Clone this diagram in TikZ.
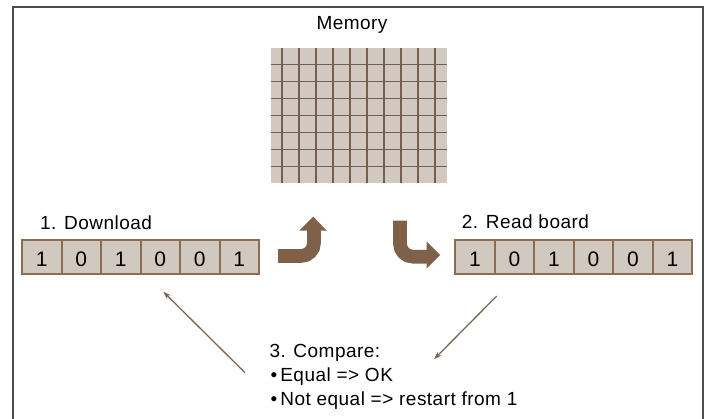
\documentclass[tikz,border=0pt]{standalone}
\usepackage{fontspec}
\newfontfamily\lblfont{Liberation Sans}[LetterSpace=2.5]
\newfontfamily\digfont{Liberation Sans}
\usetikzlibrary{arrows.meta}
\definecolor{gridfill}{HTML}{D1C8BF}
\definecolor{gridline}{HTML}{75604E}
\definecolor{cellborder}{HTML}{8C6D54}
\definecolor{arrowbrown}{HTML}{7F6048}
\definecolor{thinbrown}{HTML}{7D6552}
\definecolor{framecol}{HTML}{4D4D4D}
\begin{document}
\begin{tikzpicture}[x=1pt,y=-1pt,
  lbl/.style={font=\lblfont\fontsize{19}{20}\selectfont, inner sep=0pt, anchor=base west},
  cell/.style={draw=cellborder, fill=gridfill, line width=2pt, minimum width=39.5pt,
    minimum height=33.5pt, inner sep=0pt, text height=19pt, text depth=0pt,
    font=\digfont\fontsize{21}{21}\selectfont},
  gridln/.style={draw=gridline, line width=1.9pt},
  bigarrow/.style={draw=arrowbrown, line width=13.7pt, rounded corners=13pt},
  thinarrow/.style={draw=thinbrown, line width=1.3pt, -{Stealth[length=8pt,width=5.5pt]}}]
\useasboundingbox (0,0) rectangle (705,419);
\clip (0,0) rectangle (705,419);
% frame
\draw[framecol, line width=2pt] (13,7.5) rectangle (702.5,440);
% memory grid
\node[fill=gridfill, minimum width=176pt, minimum height=135pt, inner sep=0pt] (mem) at (359,115.5) {};
\foreach \x in {0,...,9} \draw[gridln] ({282+17*\x},48) -- ({282+17*\x},183);
\foreach \y in {0,...,6} \draw[gridln] (271,{64.5+17*\y}) -- (447,{64.5+17*\y});
\node[lbl, anchor=base] (memlbl) at (352,30) {Memory};
% labels
\node[lbl] (dl) at (40,230) {1. Download};
\node[lbl] (rb) at (461.7,228.5) {2. Read board};
% arrays
\foreach \d [count=\i from 0] in {1,0,1,0,0,1}
  \node[cell] (a\i) at ({22+39.5*(\i+0.5)},257) {\d};
\foreach \d [count=\i from 0] in {1,0,1,0,0,1}
  \node[cell] (b\i) at ({455.3+39.5*(\i+0.5)},257) {\d};
% thick arrows
\draw[bigarrow] (278,256) -- (314,256) -- (314,229.5);
\fill[arrowbrown] (299.3,230.7) -- (326.7,230.7) -- (313.3,216.7) -- cycle;
\draw[bigarrow] (400,220.7) -- (400,256.7) -- (428,256.7);
\fill[arrowbrown] (426.7,241.7) -- (426.7,268.3) -- (440,255) -- cycle;
% compare
\node[lbl] (cmp) at (269.3,358) {3. Compare:};
\node[lbl] (eq) at (270.5,381.7) {\textbullet\hspace{3pt}Equal => OK};
\node[lbl] (neq) at (270.5,406) {\textbullet\hspace{3pt}Not equal => restart from 1};
% thin arrows
\coordinate (c1) at (245,372.7);
\coordinate (t1) at (163.3,291.7);
\coordinate (s2) at (496.7,296);
\coordinate (c2) at (434,359.3);
\draw[thinarrow] (c1) -- (t1);
\draw[thinarrow] (s2) -- (c2);
\end{tikzpicture}
\end{document}
